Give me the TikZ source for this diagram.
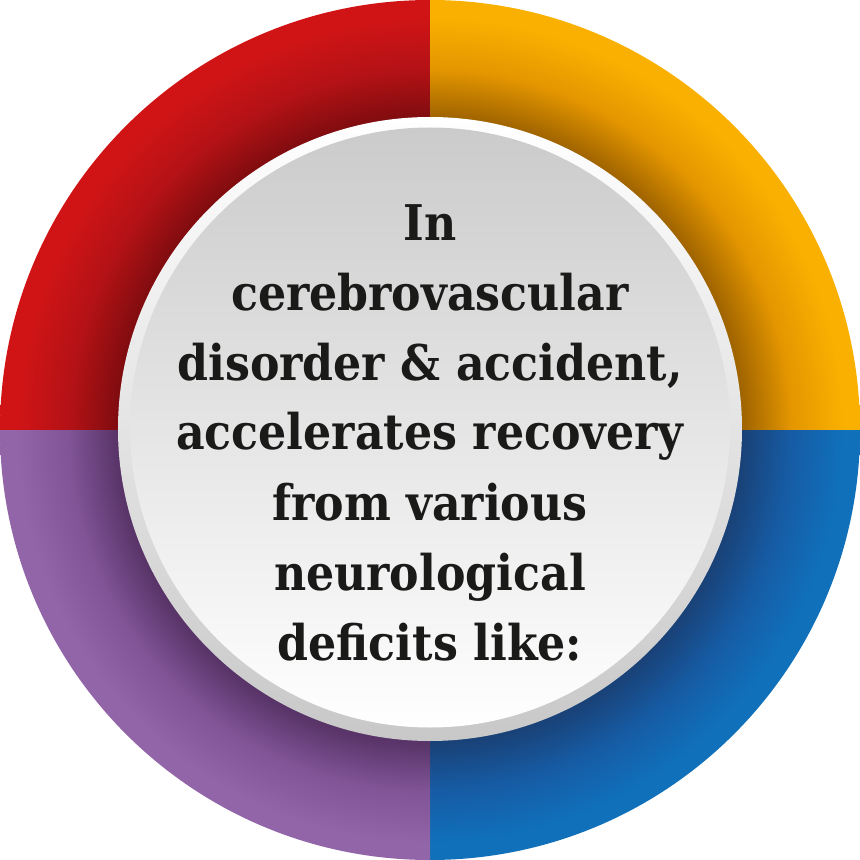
\documentclass[tikz,border=0pt]{standalone}
\usepackage{fontspec}
\setmainfont{DejaVu Serif Condensed}
\definecolor{rdB}{RGB}{208,20,22}
\definecolor{rdM}{RGB}{180,18,22}
\definecolor{rdD}{RGB}{128,12,15}
\definecolor{orB}{RGB}{249,176,0}
\definecolor{orM}{RGB}{228,150,0}
\definecolor{orD}{RGB}{160,100,0}
\definecolor{blB}{RGB}{16,112,186}
\definecolor{blM}{RGB}{22,92,165}
\definecolor{blD}{RGB}{25,66,120}
\definecolor{puB}{RGB}{146,100,168}
\definecolor{puM}{RGB}{128,84,150}
\definecolor{puD}{RGB}{88,52,104}
\definecolor{txt}{RGB}{26,26,24}
\definecolor{discTop}{RGB}{203,203,204}
\definecolor{discMid}{RGB}{234,234,235}
\definecolor{rimBot}{RGB}{200,200,201}
\pgfdeclareradialshading{redring}{\pgfpoint{0bp}{0bp}}{color(0bp)=(rdD); color(18.2bp)=(rdD); color(21bp)=(rdM); color(24bp)=(rdB); color(25bp)=(rdB); color(50bp)=(rdB)}
\pgfdeclareradialshading{orangering}{\pgfpoint{0bp}{0bp}}{color(0bp)=(orD); color(18.2bp)=(orD); color(21bp)=(orM); color(24bp)=(orB); color(25bp)=(orB); color(50bp)=(orB)}
\pgfdeclareradialshading{bluering}{\pgfpoint{0bp}{0bp}}{color(0bp)=(blD); color(18.2bp)=(blD); color(21bp)=(blM); color(24bp)=(blB); color(25bp)=(blB); color(50bp)=(blB)}
\pgfdeclareradialshading{purplering}{\pgfpoint{0bp}{0bp}}{color(0bp)=(puD); color(18.2bp)=(puD); color(21bp)=(puM); color(24bp)=(puB); color(25bp)=(puB); color(50bp)=(puB)}
\begin{document}
\begin{tikzpicture}[
  linetext/.style={anchor=base, inner sep=0pt, text=txt, font=\fontsize{14}{17}\selectfont\bfseries}
]
\useasboundingbox (-4.3,-4.3) rectangle (4.3,4.3);
% ring quadrants
\begin{scope}
  \clip (-4.3,0) rectangle (0,4.3);
  \shade[shading=redring] (0,0) circle (4.3);
\end{scope}
\begin{scope}
  \clip (0,0) rectangle (4.3,4.3);
  \shade[shading=orangering] (0,0) circle (4.3);
\end{scope}
\begin{scope}
  \clip (0,-4.3) rectangle (4.3,0);
  \shade[shading=bluering] (0,0) circle (4.3);
\end{scope}
\begin{scope}
  \clip (-4.3,-4.3) rectangle (0,0);
  \shade[shading=purplering] (0,0) circle (4.3);
\end{scope}
% rim and disc
\shade[top color=white, bottom color=rimBot] (0,0.01) circle (3.12);
\shade[top color=discTop, middle color=discMid, bottom color=white] (0,0.025) circle (3.0);
% text
\node[linetext] (l1) at (0,1.89) {In};
\node[linetext] (l2) at (0,1.19) {cerebrovascular};
\node[linetext] (l3) at (0,0.49) {disorder \& accident,};
\node[linetext] (l4) at (0,-0.20) {accelerates recovery};
\node[linetext] (l5) at (0,-0.90) {from various};
\node[linetext] (l6) at (0,-1.60) {neurological};
\node[linetext] (l7) at (0,-2.30) {deficits like:};
\end{tikzpicture}
\end{document}
